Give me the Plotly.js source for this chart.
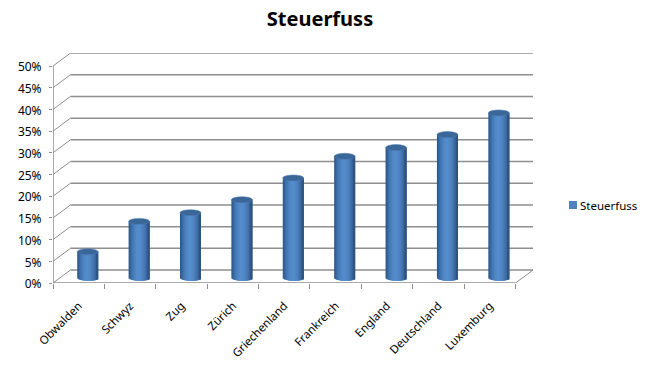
<!DOCTYPE html>
<html><head><meta charset="utf-8">
<script src="https://cdn.plot.ly/plotly-3.0.1.min.js"></script>
<style>html,body{margin:0;padding:0;background:#fff}</style></head>
<body><div id="c" style="width:647px;height:373px"></div>
<script>
const categories = ["Obwalden","Schwyz","Zug","Zürich","Griechenland","Frankreich","England","Deutschland","Luxemburg"];
const values = [6,13,15,18,23,28,30,33,38];
const yTicks = [0,5,10,15,20,25,30,35,40,45,50];
const seriesName = "Steuerfuss";
const sliceColors = ["#2f5a88","#355f92","#3a6ca4","#4074b0","#4679b6","#4a7fbd","#4e84c2","#5189c7","#538bca","#558ccb","#558ccb","#548aca","#5288c6","#4f84c2","#4c80bc","#487ab5","#4474ad","#3f6ca3","#396396","#325886","#2f5480"];

const pxX = 463/9;            // pixels per category
const pxY = 4.35;             // pixels per percent
const depthX = 17.5/pxX, depthY = 13/pxY;   // 3-D depth offset in axis units
const cx = 9/pxX, cy = 1.2;   // bar centre offset on the floor
const halfH = 3/pxY;          // half height of ellipse
const n = sliceColors.length, R = n/2;
const grid = "#8e8e8e";

const traces = sliceColors.map((col,i)=>{
  const k = i - (n-1)/2;
  const e = halfH*Math.sqrt(Math.max(0,1-(k/R)*(k/R)));
  const left = Math.min(i,n-2), right = Math.max(Math.min(i+3,n),left+2);
  return {type:"bar", x:categories, base:values.map(()=>cy-e), y:values.map(v=>v+e),
    width:(right-left)/pxX, offset:cx+(left-R)/pxX, marker:{color:col,line:{width:0}},
    showlegend:false, hoverinfo:"skip"};
});
traces.push({type:"scatter",mode:"markers",x:[null],y:[null],name:seriesName,showlegend:true,
  marker:{symbol:"square",size:8,color:"#4f81bd"}});

const line=(x0,y0,x1,y1,w)=>({type:"line",xref:"x",yref:"y",x0,y0,x1,y1,layer:"below",line:{color:grid,width:w||1.5}});
const shapes=[];
yTicks.forEach(t=>{
  shapes.push(line(-0.5,t,-0.5+depthX,t+depthY,1));
  shapes.push(line(-0.5+depthX,t+depthY,8.5+depthX,t+depthY));
});
shapes.push(line(-0.5,0,-0.5,50));
shapes.push(line(-0.5,0,8.5,0));
shapes.push(line(8.5,0,8.5+depthX,depthY,1));
values.forEach((v,i)=>{
  shapes.push({type:"circle",xref:"x",yref:"y",layer:"above",
    x0:i+cx-R/pxX,x1:i+cx+R/pxX,y0:v+cy-halfH,y1:v+cy+halfH,
    fillcolor:"#3a6698",line:{color:"#4a7cb4",width:0.5}});
});

const font="Noto Sans, Open Sans, sans-serif";
Plotly.newPlot("c",traces,{
  width:647,height:373,paper_bgcolor:"#fff",plot_bgcolor:"#fff",
  margin:{l:53,r:114,t:53,b:89.5,pad:0},
  barmode:"overlay",shapes,
  title:{text:"<b>Steuerfuss</b>",x:320/647,xanchor:"center",y:0.948,yanchor:"middle",font:{family:font,size:20,color:"#000"}},
  xaxis:{type:"category",categoryorder:"array",categoryarray:categories,range:[-0.5,8.5+depthX],tickson:"boundaries",
    showgrid:false,zeroline:false,showline:false,ticks:"outside",ticklen:5,tickcolor:grid,tickwidth:1,
    tickangle:-45,ticklabelstandoff:13,ticklabelshift:0,tickfont:{family:font,size:11.5,color:"#000"}},
  yaxis:{range:[0,53],tickmode:"array",tickvals:yTicks,ticktext:yTicks.map(t=>t+"%"),
    showgrid:false,zeroline:false,showline:false,ticks:"outside",ticklen:3,tickcolor:grid,tickwidth:1,
    ticklabelstandoff:5,ticklabelshift:1,tickfont:{family:font,size:12,color:"#000"}},
  showlegend:true,
  legend:{x:555/647,xanchor:"left",y:1-205/373,yanchor:"middle",xref:"container",yref:"container",indentation:-15,
    font:{family:font,size:11.5,color:"#000"},bgcolor:"rgba(0,0,0,0)"}
},{displayModeBar:false,staticPlot:true}).then(gd=>{
  // pull the legend swatch up next to its label, as in the reference
  gd.querySelectorAll(".legend .legendsymbols").forEach(el=>el.setAttribute("transform","translate(13,0)"));
});
</script></body></html>
